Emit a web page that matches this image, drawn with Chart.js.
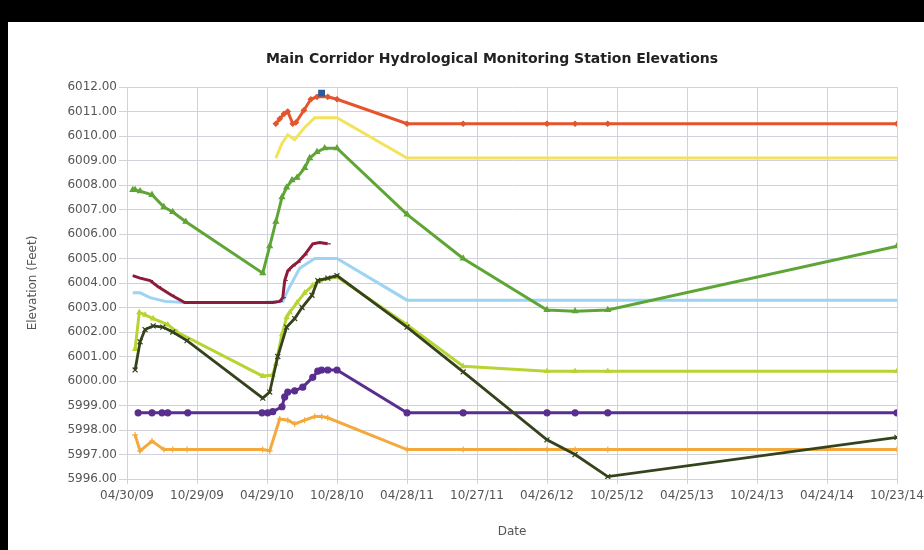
<!DOCTYPE html>
<html>
<head>
<meta charset="utf-8">
<title>Main Corridor Hydrological Monitoring Station Elevations</title>
<script src="https://cdn.jsdelivr.net/npm/chart.js@4.4.1/dist/chart.umd.min.js"></script>
<style>
  html, body { margin: 0; padding: 0; background: #000; width: 924px; height: 550px; overflow: hidden; }
  #wrap { position: absolute; left: 8px; top: 22px; width: 916px; height: 528px; background: #fff; }
</style>
</head>
<body>
<div id="wrap"><canvas id="elevChart" width="916" height="528"></canvas></div>
<script>
// ------------------- DATA -------------------
const tickLabels = ["04/30/09", "10/29/09", "04/29/10", "10/28/10", "04/28/11", "10/27/11",
  "04/26/12", "10/25/12", "04/25/13", "10/24/13", "04/24/14", "10/23/14"];

const blueDates = ["2010-09-18"];
const blueValues = [6011.75];

const redDates = ["2010-05-22", "2010-06-01", "2010-06-12", "2010-06-22", "2010-07-05", "2010-07-13",
  "2010-08-03", "2010-08-21", "2010-09-06", "2010-10-04", "2010-10-28", "2011-04-28", "2011-09-21",
  "2012-04-26", "2012-07-08", "2012-10-01", "2014-10-23"];
const redValues = [6010.5, 6010.7, 6010.9, 6011.0, 6010.5, 6010.55, 6011.05, 6011.5, 6011.6, 6011.6,
  6011.5, 6010.5, 6010.5, 6010.5, 6010.5, 6010.5, 6010.5];

const yellowDates = ["2010-05-22", "2010-06-07", "2010-06-22", "2010-07-10", "2010-08-05", "2010-08-31",
  "2010-10-28", "2011-04-28", "2014-10-23"];
const yellowValues = [6009.1, 6009.7, 6010.05, 6009.85, 6010.35, 6010.75, 6010.75, 6009.1, 6009.1];

const greenDates = ["2009-05-15", "2009-05-21", "2009-06-03", "2009-07-04", "2009-08-04", "2009-08-27",
  "2009-09-30", "2010-04-18", "2010-05-06", "2010-05-22", "2010-06-07", "2010-06-19", "2010-07-03",
  "2010-07-16", "2010-08-05", "2010-08-18", "2010-09-06", "2010-09-26", "2010-10-28", "2011-04-28",
  "2011-09-21", "2012-04-26", "2012-07-08", "2012-10-01", "2014-10-23"];
const greenValues = [6007.8, 6007.8, 6007.75, 6007.6, 6007.1, 6006.9, 6006.5, 6004.4, 6005.5, 6006.5,
  6007.5, 6007.9, 6008.2, 6008.3, 6008.7, 6009.1, 6009.35, 6009.5, 6009.5, 6006.8, 6005.0, 6002.9,
  6002.85, 6002.9, 6005.5];

const maroonDates = ["2009-05-15", "2009-06-03", "2009-06-29", "2009-07-20", "2009-08-24", "2009-09-27",
  "2010-04-18", "2010-05-01", "2010-05-14", "2010-06-01", "2010-06-09", "2010-06-14", "2010-06-22",
  "2010-07-05", "2010-07-18", "2010-08-05", "2010-08-26", "2010-09-13", "2010-10-04"];
const maroonValues = [6004.3, 6004.2, 6004.1, 6003.85, 6003.5, 6003.2, 6003.2, 6003.2, 6003.2, 6003.25,
  6003.4, 6004.1, 6004.5, 6004.7, 6004.85, 6005.15, 6005.6, 6005.65, 6005.6];

const lightBlueDates = ["2009-05-15", "2009-06-03", "2009-06-29", "2009-08-07", "2009-09-27", "2010-04-18",
  "2010-06-09", "2010-06-22", "2010-07-23", "2010-08-31", "2010-10-28", "2011-04-28", "2011-09-21",
  "2012-04-26", "2012-07-08", "2012-10-01", "2014-10-23"];
const lightBlueValues = [6003.6, 6003.6, 6003.4, 6003.25, 6003.2, 6003.2, 6003.25, 6003.7, 6004.6,
  6005.0, 6005.0, 6003.3, 6003.3, 6003.3, 6003.3, 6003.3, 6003.3];

const oliveDates = ["2009-05-21", "2009-06-03", "2009-06-16", "2009-07-07", "2009-08-01", "2009-08-27",
  "2009-10-03", "2010-04-18", "2010-05-06", "2010-05-27", "2010-06-19", "2010-07-10", "2010-07-29",
  "2010-08-24", "2010-09-08", "2010-10-04", "2010-10-28", "2011-04-28", "2011-09-21", "2012-04-26",
  "2012-07-08", "2012-10-01", "2014-10-23"];
const oliveValues = [6000.45, 6001.6, 6002.1, 6002.25, 6002.2, 6002.0, 6001.65, 5999.3, 5999.55, 6001.0,
  6002.2, 6002.55, 6003.0, 6003.5, 6004.1, 6004.2, 6004.3, 6002.2, 6000.37, 5997.6, 5997.0, 5996.1,
  5997.7];

const limeDates = ["2009-05-21", "2009-06-01", "2009-06-16", "2009-07-07", "2009-08-14", "2009-09-07",
  "2010-04-18", "2010-05-14", "2010-05-22", "2010-06-07", "2010-06-19", "2010-06-27", "2010-07-16",
  "2010-08-05", "2010-08-26", "2010-09-13", "2010-10-28", "2011-04-28", "2011-09-21", "2012-04-26",
  "2012-07-08", "2012-10-01", "2014-10-23"];
const limeValues = [6001.3, 6002.8, 6002.7, 6002.55, 6002.3, 6002.0, 6000.2, 6000.25, 6000.7, 6001.9,
  6002.6, 6002.8, 6003.2, 6003.6, 6003.9, 6004.1, 6004.25, 6002.3, 6000.6, 6000.4, 6000.4, 6000.4,
  6000.4];

const purpleDates = ["2009-05-29", "2009-07-04", "2009-07-30", "2009-08-14", "2009-10-05", "2010-04-16",
  "2010-05-01", "2010-05-14", "2010-06-07", "2010-06-14", "2010-06-22", "2010-07-10", "2010-07-31",
  "2010-08-26", "2010-09-08", "2010-09-18", "2010-10-04", "2010-10-28", "2011-04-28", "2011-09-21",
  "2012-04-26", "2012-07-08", "2012-10-01", "2014-10-23"];
const purpleValues = [5998.7, 5998.7, 5998.7, 5998.7, 5998.7, 5998.7, 5998.7, 5998.75, 5998.95, 5999.35,
  5999.55, 5999.6, 5999.75, 6000.15, 6000.4, 6000.45, 6000.45, 6000.45, 5998.7, 5998.7, 5998.7,
  5998.7, 5998.7, 5998.7];

const orangeDates = ["2009-05-21", "2009-06-03", "2009-07-04", "2009-08-04", "2009-08-27", "2009-10-03",
  "2010-04-18", "2010-05-06", "2010-06-01", "2010-06-22", "2010-07-10", "2010-08-05", "2010-08-31",
  "2010-09-18", "2010-10-04", "2011-04-28", "2011-09-21", "2012-04-26", "2012-07-08", "2012-10-01",
  "2014-10-23"];
const orangeValues = [5997.8, 5997.15, 5997.55, 5997.2, 5997.2, 5997.2, 5997.2, 5997.15, 5998.45,
  5998.4, 5998.25, 5998.4, 5998.55, 5998.55, 5998.5, 5997.2, 5997.2, 5997.2, 5997.2, 5997.2, 5997.2];

// ------------------- HELPERS -------------------
const START = Date.parse("2009-04-30");
const dayOf = iso => (Date.parse(iso) - START) / 86400000;
const usToIso = s => { const [m, d, y] = s.split("/"); return `20${y}-${m}-${d}`; };
const points = (dates, values) => dates.map((d, i) => ({ x: dayOf(d), y: values[i] }));

function series(dates, values, color, style, radius, width) {
  return {
    data: points(dates, values),
    borderColor: color,
    backgroundColor: color,
    pointBackgroundColor: color,
    pointBorderColor: color,
    pointStyle: style,
    pointRadius: radius,
    pointBorderWidth: 1.2,
    borderWidth: width,
    tension: 0
  };
}

// ------------------- CHART -------------------
const gridColor = "#d2d2dc";
const ctx = document.getElementById("elevChart").getContext("2d");
new Chart(ctx, {
  type: "line",
  data: {
    datasets: [
      series(blueDates, blueValues, "#2d5a9c", "rect", 4, 3),
      series(redDates, redValues, "#e4552d", "rectRot", 2.5, 3),
      series(yellowDates, yellowValues, "#f3e25c", "circle", 0, 3),
      series(greenDates, greenValues, "#5fa536", "triangle", 3, 3),
      series(maroonDates, maroonValues, "#8c1b3c", "dash", 3, 3),
      series(lightBlueDates, lightBlueValues, "#9dd3f3", "circle", 0, 3),
      series(oliveDates, oliveValues, "#34431b", "crossRot", 3.5, 2.8),
      series(limeDates, limeValues, "#b8d432", "triangle", 2.5, 3),
      series(purpleDates, purpleValues, "#5a2e8e", "circle", 3, 3),
      series(orangeDates, orangeValues, "#f4a93c", "cross", 3, 3)
    ]
  },
  options: {
    responsive: false,
    animation: false,
    layout: { padding: { left: 52, right: 0, top: 0, bottom: 0 } },
    plugins: {
      legend: { display: false },
      tooltip: { enabled: false },
      title: {
        display: true,
        text: "Main Corridor Hydrological Monitoring Station Elevations",
        color: "#222",
        font: { family: "DejaVu Sans", size: 14, weight: "bold" },
        padding: { top: 28.6, bottom: 19.6 }
      }
    },
    scales: {
      x: {
        type: "linear",
        min: 0,
        max: dayOf(usToIso(tickLabels[tickLabels.length - 1])),
        afterBuildTicks: axis => {
          axis.ticks = tickLabels.map(t => ({ value: dayOf(usToIso(t)) }));
        },
        afterFit: s => { s.height = 71; s.paddingRight = 27; s.paddingLeft = 0; },
        ticks: {
          callback: (v, i) => tickLabels[i],
          color: "#555",
          font: { family: "DejaVu Sans", size: 12 },
          padding: 5,
          maxRotation: 0,
          autoSkip: false
        },
        grid: { color: gridColor, tickLength: 5 },
        border: { color: gridColor },
        title: {
          display: true,
          text: "Date",
          color: "#555",
          font: { family: "DejaVu Sans", size: 12 },
          padding: { top: 0, bottom: 10.8 }
        }
      },
      y: {
        min: 5996,
        max: 6012,
        afterFit: s => { s.width = 67; },
        ticks: {
          stepSize: 1,
          callback: v => v.toFixed(2),
          color: "#555",
          font: { family: "DejaVu Sans", size: 12 },
          padding: 2
        },
        grid: { color: gridColor, tickLength: 8 },
        border: { color: gridColor },
        title: {
          display: true,
          text: "Elevation (Feet)",
          color: "#555",
          font: { family: "DejaVu Sans", size: 12 },
          padding: { top: -34.2, bottom: 0 }
        }
      }
    }
  }
});
</script>
</body>
</html>
